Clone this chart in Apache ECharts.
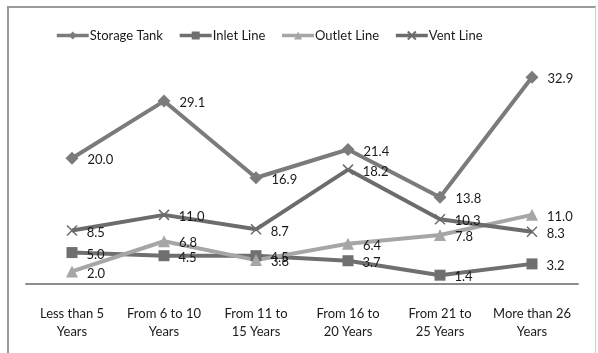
<!DOCTYPE html>
<html>
<head>
<meta charset="utf-8">
<script src="https://cdn.jsdelivr.net/npm/echarts@6/dist/echarts.min.js"></script>
<style>
  html, body { margin: 0; padding: 0; background: #fff; }
  #chart { width: 598px; height: 353px; }
</style>
</head>
<body>
<div id="chart"></div>
<script>
// Age bands of the equipment
const categories = [
  'Less than 5\nYears',
  'From 6 to 10\nYears',
  'From 11 to\n15 Years',
  'From 16 to\n20 Years',
  'From 21 to\n25 Years',
  'More than 26\nYears'
];

// Share (%) per component
const storageTank = [20.0, 29.1, 16.9, 21.4, 13.8, 32.9];
const inletLine   = [5.0, 4.5, 4.5, 3.7, 1.4, 3.2];
const outletLine  = [2.0, 6.8, 3.8, 6.4, 7.8, 11.0];
const ventLine    = [8.5, 11.0, 8.7, 18.2, 10.3, 8.3];

const FONT = 'Lato, "Open Sans", sans-serif';
const CROSS = 'path://M0,0L10,10M10,0L0,10';

function makeSeries(name, data, color, symbol, size) {
  return {
    name: name,
    type: 'line',
    data: data,
    symbol: symbol,
    symbolSize: size,
    lineStyle: { color: color, width: 4 },
    itemStyle: { color: color, borderColor: color, borderWidth: symbol === CROSS ? 1.5 : 0 },
    label: {
      show: true,
      position: 'right',
      distance: 9,
      offset: [0, 2],
      color: '#1a1a1a',
      fontFamily: FONT,
      fontSize: 13,
      formatter: p => p.value.toFixed(1)
    },
    emphasis: { disabled: true },
    animation: false
  };
}

const chart = echarts.init(document.getElementById('chart'));
chart.setOption({
  backgroundColor: '#fff',
  animation: false,
  graphic: [
    { type: 'line', shape: { x1: 8, y1: 7, x2: 596, y2: 7 }, style: { stroke: '#9a9a9a', lineWidth: 2 } },
    { type: 'line', shape: { x1: 8, y1: 6, x2: 8, y2: 360 }, style: { stroke: '#9a9a9a', lineWidth: 2 } },
    { type: 'line', shape: { x1: 595.5, y1: 7, x2: 595.5, y2: 360 }, style: { stroke: '#cfcfcf', lineWidth: 1 } }
  ],
  legend: {
    top: 24,
    left: 50,
    itemWidth: 32,
    itemHeight: 10,
    itemGap: 15,
    lineStyle: { width: 3.5 },
    textStyle: { fontFamily: FONT, fontSize: 13, color: '#1a1a1a', padding: [0, 0, 0, -4] },
    data: ['Storage Tank', 'Inlet Line', 'Outlet Line', 'Vent Line']
  },
  grid: { left: 26, right: 20, top: 64, bottom: 69 },
  xAxis: {
    type: 'category',
    data: categories,
    boundaryGap: true,
    axisLine: { lineStyle: { color: '#8c8c8c', width: 2 } },
    axisTick: { show: false },
    axisLabel: {
      interval: 0,
      margin: 21,
      lineHeight: 18,
      fontFamily: FONT,
      fontSize: 13,
      color: '#1a1a1a'
    }
  },
  yAxis: {
    type: 'value',
    min: 0,
    max: 35,
    show: false,
    splitLine: { show: false }
  },
  series: [
    makeSeries('Storage Tank', storageTank, '#7b7b7b', 'diamond', 13),
    makeSeries('Inlet Line', inletLine, '#6f6f6f', 'rect', 11),
    makeSeries('Outlet Line', outletLine, '#a6a6a6', 'triangle', 12),
    makeSeries('Vent Line', ventLine, '#6c6c6c', CROSS, 10)
  ]
});
</script>
</body>
</html>
